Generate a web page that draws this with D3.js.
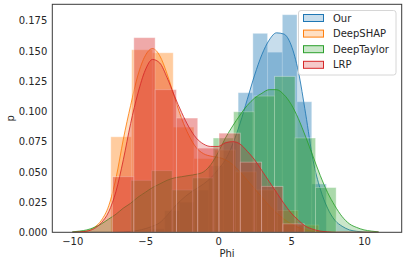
<!DOCTYPE html>
<html><head><meta charset="utf-8">
<script src="https://cdn.jsdelivr.net/npm/d3@7"></script>
<style>
html,body{margin:0;padding:0;background:#fff;}
text{font-family:"DejaVu Sans",sans-serif;}
</style></head>
<body><svg id="c" width="407" height="265"></svg>
<script>
// ---- data ----
const seriesNames = ["Our", "DeepSHAP", "DeepTaylor", "LRP"];
const seriesColors = ["#1f77b4", "#ff7f0e", "#2ca02c", "#d62728"];

const ourEdges = [-4.68, -3.67, -2.66, -1.65, -0.64, 0.36, 1.37, 2.38, 3.39, 4.40, 5.41, 6.42, 7.42];
const ourHeights = [0.003, 0.018, 0.025, 0.035, 0.055, 0.075, 0.1155, 0.1646, 0.149, 0.180, 0.108, 0.040];

const shapEdges = [-7.36, -5.93, -4.51, -3.08, -1.66, -0.23, 1.19, 2.62, 4.05, 5.47, 6.90];
const shapHeights = [0.079, 0.151, 0.1485, 0.087, 0.061, 0.068, 0.050, 0.035, 0.018, 0.006];

const taylorEdges = [-5.97, -4.56, -3.15, -1.75, -0.34, 1.06, 2.47, 3.87, 5.28, 6.68, 8.09];
const taylorHeights = [0.043, 0.051, 0.035, 0.045, 0.078, 0.0997, 0.1127, 0.129, 0.078, 0.037];

const lrpEdges = [-7.24, -5.78, -4.32, -2.86, -1.40, 0.06, 1.52, 2.98, 4.44, 5.90];
const lrpHeights = [0.046, 0.161, 0.118, 0.0945, 0.0696, 0.082, 0.058, 0.038, 0.007];

const kdeX = [-10,-9.5,-9,-8.5,-8,-7.5,-7,-6.5,-6,-5.5,-5,-4.5,-4,-3.5,-3,-2.5,-2,-1.5,-1,-0.5,0,0.5,1,1.5,2,2.5,3,3.5,4,4.5,5,5.5,6,6.5,7,7.5,8,8.5,9,9.5,10,10.5,11];
const ourKde = [0,0,0,0,0,0,0,0.0003,0.0008,0.0015,0.003,0.005,0.008,0.014,0.021,0.027,0.032,0.036,0.04,0.045,0.052,0.06,0.073,0.09,0.11,0.13,0.147,0.159,0.165,0.164,0.155,0.133,0.098,0.06,0.036,0.02,0.01,0.005,0.002,0.0008,0.0002,0,0];
const shapKde = [0,0.0005,0.001,0.004,0.01,0.022,0.045,0.077,0.105,0.13,0.146,0.152,0.146,0.131,0.112,0.094,0.08,0.07,0.065,0.063,0.062,0.06,0.056,0.05,0.043,0.036,0.029,0.022,0.016,0.011,0.007,0.004,0.002,0.001,0.0005,0,0,0,0,0,0,0,0];
const taylorKde = [0.0003,0.001,0.002,0.004,0.007,0.011,0.015,0.02,0.024,0.029,0.033,0.037,0.04,0.043,0.045,0.046,0.047,0.048,0.05,0.056,0.066,0.078,0.088,0.097,0.105,0.111,0.115,0.118,0.118,0.114,0.106,0.094,0.079,0.063,0.047,0.033,0.022,0.013,0.007,0.004,0.002,0.001,0.0003];
const lrpKde = [0,0.0003,0.001,0.003,0.008,0.017,0.034,0.06,0.09,0.115,0.134,0.143,0.14,0.128,0.113,0.099,0.087,0.078,0.073,0.071,0.071,0.074,0.075,0.073,0.067,0.06,0.051,0.042,0.033,0.024,0.016,0.01,0.005,0.0025,0.001,0.0004,0,0,0,0,0,0,0];

const xTicks = [-10, -5, 0, 5, 10];
const yTicks = [0, 0.025, 0.05, 0.075, 0.1, 0.125, 0.15, 0.175];
const xLabel = "Phi", yLabel = "p";

// ---- layout ----
const L = 52.3, R = 401.7, T = 4.3, B = 232.3;
const x = d3.scaleLinear().domain([-11.37, 12.585]).range([L, R]);
const y = d3.scaleLinear().domain([0, 0.1886]).range([B, T]);

const svg = d3.select("#c");
svg.append("defs").append("clipPath").attr("id","clip")
  .append("rect").attr("x",L).attr("y",T).attr("width",R-L).attr("height",B-T);

const plot = svg.append("g").attr("clip-path","url(#clip)");

const series = [
  {edges: ourEdges, h: ourHeights, kde: ourKde},
  {edges: shapEdges, h: shapHeights, kde: shapKde},
  {edges: taylorEdges, h: taylorHeights, kde: taylorKde},
  {edges: lrpEdges, h: lrpHeights, kde: lrpKde}
];

const area = d3.area().x(d => x(d[0])).y0(y(0)).y1(d => y(d[1])).curve(d3.curveMonotoneX);
const line = d3.line().x(d => x(d[0])).y(d => y(d[1])).curve(d3.curveMonotoneX);

series.forEach((s, i) => {
  const col = seriesColors[i];
  const bins = s.h.map((v, j) => ({x0: s.edges[j], x1: s.edges[j+1], v}));
  plot.append("g").selectAll("rect").data(bins).join("rect")
    .attr("x", d => x(d.x0)).attr("width", d => x(d.x1) - x(d.x0))
    .attr("y", d => y(d.v)).attr("height", d => y(0) - y(d.v))
    .attr("fill", col).attr("fill-opacity", 0.4)
    .attr("stroke", "#fff").attr("stroke-opacity", 0.4).attr("stroke-width", 0.9);
  const pts = kdeX.map((xv, j) => [xv, s.kde[j]]);
  plot.append("path").datum(pts).attr("d", area)
    .attr("fill", col).attr("fill-opacity", 0.25).attr("stroke", "none");
  plot.append("path").datum(pts).attr("d", line)
    .attr("fill", "none").attr("stroke", col).attr("stroke-width", 0.85);
});

// axes
const tc = "#262626";
const yAxis = svg.append("g").attr("transform", `translate(${L},0)`)
  .call(d3.axisLeft(y).tickValues(yTicks).tickSize(0).tickPadding(5).tickFormat(d3.format(".3f")));
const xAxis = svg.append("g").attr("transform", `translate(0,${B})`)
  .call(d3.axisBottom(x).tickValues(xTicks).tickSize(0).tickPadding(6).tickFormat(d3.format("d")));
[yAxis, xAxis].forEach(a => {
  a.select(".domain").remove();
  a.selectAll("text").attr("font-size", 10).attr("fill", tc).attr("font-family", '"DejaVu Sans", sans-serif');
});

svg.append("rect").attr("x", L).attr("y", T).attr("width", R-L).attr("height", B-T)
  .attr("fill", "none").attr("stroke", "#3a3a3a").attr("stroke-width", 1);

svg.append("text").attr("x", (L+R)/2).attr("y", 257).attr("text-anchor","middle")
  .attr("font-size", 10).attr("fill", tc).text(xLabel);
svg.append("text").attr("transform", `translate(14,${(T+B)/2}) rotate(-90)`).attr("text-anchor","middle")
  .attr("font-size", 10).attr("fill", tc).text(yLabel);

// legend
const lg = svg.append("g");
lg.append("rect").attr("x", 298.5).attr("y", 10.5).attr("width", 97.5).attr("height", 64.5).attr("rx", 2.5)
  .attr("fill", "#fff").attr("fill-opacity", 0.8).attr("stroke", "#d6d6d6").attr("stroke-width", 1);
seriesNames.forEach((n, i) => {
  const cy = 18 + i * 15.6;
  lg.append("rect").attr("x", 303.5).attr("y", cy - 3.5).attr("width", 20).attr("height", 7)
    .attr("fill", seriesColors[i]).attr("fill-opacity", 0.25)
    .attr("stroke", seriesColors[i]).attr("stroke-width", 1);
  lg.append("text").attr("x", 333).attr("y", cy).attr("dy", "0.35em")
    .attr("font-size", 10).attr("fill", tc).text(n);
});
</script>
</body></html>
